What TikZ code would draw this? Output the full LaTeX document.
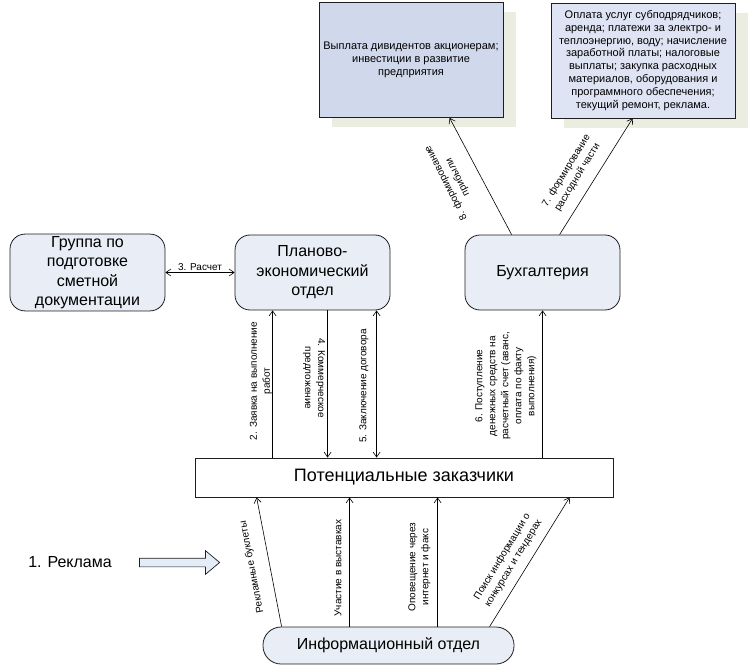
\documentclass[tikz,border=0pt]{standalone}
\usepackage{fontspec}
\setmainfont{Liberation Sans}
\usetikzlibrary{shapes.arrows, arrows.meta, shadows}
\definecolor{deptFill}{RGB}{232, 237, 246}
\definecolor{payBlue}{RGB}{208, 217, 236}
\definecolor{payLight}{RGB}{222, 228, 243}
\definecolor{shadowTan}{RGB}{236, 237, 225}
\definecolor{edgeDark}{RGB}{30, 30, 30}
\definecolor{adFill}{RGB}{228, 236, 248}
\tikzset{
  deptbox/.style={
    rectangle, rounded corners=15pt,
    draw=edgeDark, line width=0.8pt,
    fill=deptFill,
    minimum width=155pt, minimum height=75pt,
    align=center, inner sep=2pt,
    font=\fontsize{16}{19.5}\selectfont
  },
  paybox/.style={
    rectangle, draw=edgeDark, line width=0.8pt,
    minimum width=184pt, minimum height=115pt,
    align=center, inner sep=2pt,
    font=\fontsize{11}{12.8}\selectfont,
    copy shadow={shadow xshift=13pt, shadow yshift=-10pt, fill=shadowTan, draw=none}
  },
  clientbox/.style={
    rectangle, draw=edgeDark, line width=0.8pt, fill=white,
    minimum width=418pt, minimum height=39pt,
    font=\fontsize{18}{21}\selectfont
  },
  infobox/.style={
    rectangle, rounded corners=18pt,
    draw=edgeDark, line width=0.8pt, fill=deptFill,
    minimum width=251pt, minimum height=37pt,
    font=\fontsize{16}{19}\selectfont
  },
  flowlabel/.style={font=\fontsize{10}{13}\selectfont, align=center, inner sep=1pt},
  adsign/.style={
    single arrow, draw=edgeDark, line width=0.7pt, fill=adFill,
    minimum height=80pt,
    single arrow head extend=7.5pt, single arrow tip angle=80,
    inner xsep=0pt, inner ysep=4pt
  },
  myarrow/.style={-{Straight Barb[length=5pt,width=7pt]}, line width=0.6pt},
  twoway/.style={{Straight Barb[length=5pt,width=7pt]}-{Straight Barb[length=5pt,width=7pt]}, line width=0.6pt}
}

\begin{document}
\begin{tikzpicture}[x=1pt, y=-1pt]
\useasboundingbox (0,0) rectangle (749,668);

%% PAYMENT BOXES (TOP)
\node[paybox, fill=payBlue] (dividends) at (411,60) {
  Выплата дивидентов акционерам;\\
  инвестиции в развитие\\
  предприятия
};
\node[paybox, fill=payLight] (expenses) at (643,60.5) {
  Оплата услуг субподрядчиков;\\
  аренда; платежи за электро- и\\
  теплоэнергию, воду; начисление\\
  заработной платы; налоговые\\
  выплаты; закупка расходных\\
  материалов, оборудования и\\
  программного обеспечения;\\
  текущий ремонт, реклама.
};

%% DEPARTMENTS
\node[deptbox] (estimates) at (87.5,272.5) {
  Группа по\\подготовке\\сметной\\документации
};
\node[deptbox] (planning) at (312.5,272.5) {
  Планово-\\экономический\\отдел
};
\node[deptbox] (accounting) at (542.5,272.5) {Бухгалтерия};

\node[clientbox] (clients) at (404,477.5) {Потенциальные заказчики};
\node[infobox] (infodept) at (388.5,645.5) {Информационный отдел};

%% ADVERTISING
\node[font=\fontsize{16}{19}\selectfont] (adtext) at (70,562) {1. Реклама};
\node[adsign] (adarrow) at (177,562.5) {};

%% ARROWS
\draw[twoway] (estimates.east) -- (planning.west)
  node[flowlabel, midway, above=1pt] (calcLbl) {3. Расчет};

% clients <-> planning
\draw[myarrow] ([xshift=78pt]clients.north west) -- ([xshift=38pt]planning.south west);
\draw[myarrow] ([xshift=93pt]planning.south west) -- ([xshift=133pt]clients.north west);
\draw[twoway] ([xshift=142pt]planning.south west) -- ([xshift=182pt]clients.north west);

% clients -> accounting
\draw[myarrow] ([xshift=348pt]clients.north west) -- ([xshift=78pt]accounting.south west);

% accounting -> payments
\draw[myarrow] ([xshift=47pt]accounting.north west) -- ([xshift=131pt]dividends.south west);
\draw[myarrow] ([xshift=95pt]accounting.north west) -- ([xshift=82pt]expenses.south west);

% infodept -> clients
\draw[myarrow] ([xshift=19pt]infodept.north west) -- ([xshift=62pt]clients.south west);
\draw[myarrow] ([xshift=87pt]infodept.north west) -- ([xshift=155pt]clients.south west);
\draw[myarrow] ([xshift=175pt]infodept.north west) -- ([xshift=243pt]clients.south west);
\draw[myarrow] ([xshift=227pt]infodept.north west) -- ([xshift=375pt]clients.south west);

%% ARROW LABELS
\node[flowlabel, rotate=90] (requestLbl) at (261,381) {2. Заявка на выполнение\\работ};
\node[flowlabel, rotate=-90] (offerLbl) at (314,378) {4. Коммерческое\\предложение};
\node[flowlabel, rotate=90] (contractLbl) at (364,386) {5. Заключение договора};
\node[flowlabel, rotate=90] (paymentLbl) at (506,386) {
  6. Поступление\\денежных средств на\\расчетный счет (аванс,\\оплата по факту\\выполнения)
};
\node[flowlabel, rotate=117] (profitLbl) at (452,180) {8. формирование\\прибыли};
\node[flowlabel, rotate=58.4] (costLbl) at (572,174) {7. формирование\\расходной части};
\node[flowlabel, rotate=100.8] (bookletLbl) at (252,567) {Рекламные буклеты};
\node[flowlabel, rotate=90] (fairLbl) at (338,568) {Участие в выставках};
\node[flowlabel, rotate=90] (noticeLbl) at (419.5,567) {Оповещение через\\интернет и факс};
\node[flowlabel, rotate=58.6] (tenderLbl) at (508,560) {Поиск информации о\\конкурсах и тендерах};

\end{tikzpicture}
\end{document}
